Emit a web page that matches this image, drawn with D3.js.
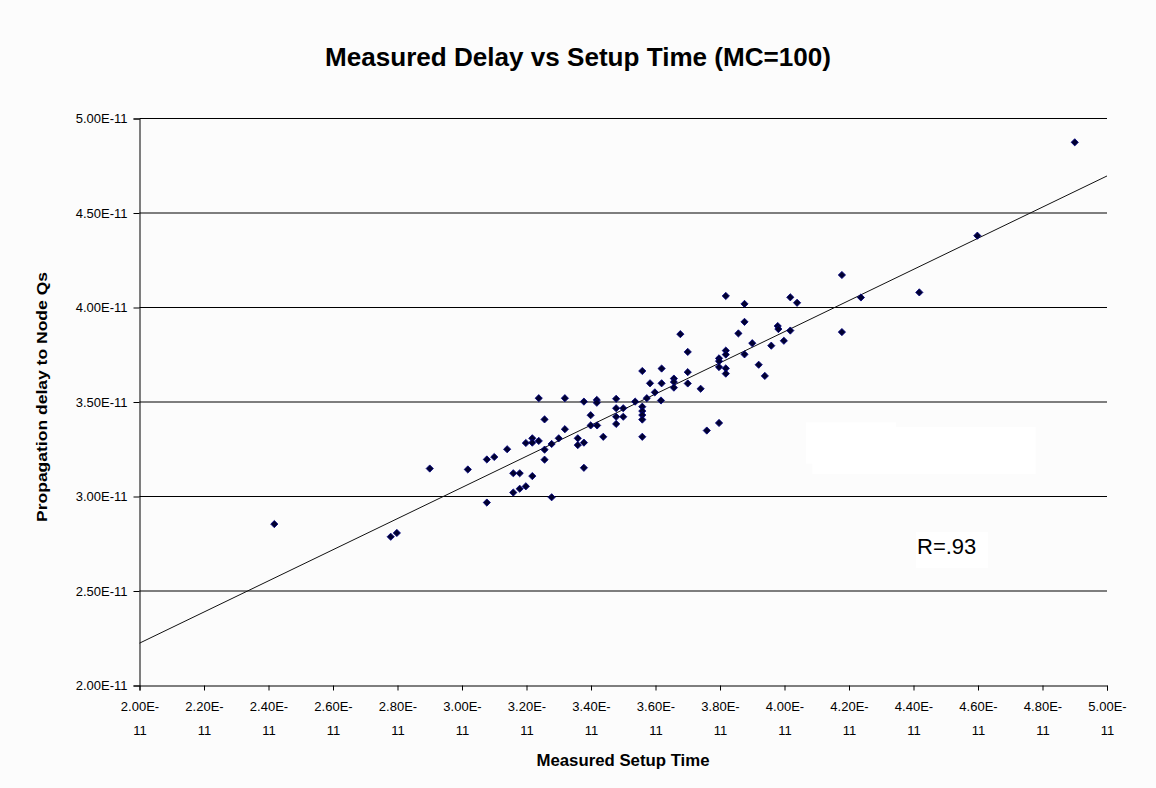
<!DOCTYPE html>
<html>
<head>
<meta charset="utf-8">
<script src="https://cdn.jsdelivr.net/npm/d3@7"></script>
<style>
  body { margin: 0; background: #fcfcfc; }
  text { font-family: Arial, "Liberation Sans", sans-serif; }
</style>
</head>
<body>
<div id="chart"></div>
<script>
// all values in units of 1E-11 s
const setupTime = [
  2.418, 2.779, 2.798, 2.900, 3.018, 3.077, 3.100, 3.140, 3.198, 3.218,
  3.218, 3.238, 3.256, 3.256, 3.278, 3.077, 3.159, 3.179, 3.218, 3.159,
  3.179, 3.198, 3.278, 3.256, 3.238, 3.319, 3.319, 3.300, 3.359, 3.359,
  3.378, 3.378, 3.378, 3.418, 3.418, 3.478, 3.537, 3.573, 3.583, 3.399,
  3.399, 3.419, 3.438, 3.478, 3.478, 3.478, 3.500, 3.500, 3.559, 3.559,
  3.559, 3.559, 3.559, 3.559, 3.619, 3.619, 3.598, 3.617, 3.657, 3.657,
  3.657, 3.677, 3.700, 3.700, 3.700, 3.740, 3.759, 3.797, 3.797, 3.797,
  3.797, 3.818, 3.818, 3.818, 3.818, 3.818, 3.857, 3.876, 3.876, 3.876,
  3.900, 3.920, 3.939, 3.959, 3.979, 3.981, 3.998, 4.018, 4.018, 4.039,
  4.178, 4.178, 4.237, 4.418, 4.598, 4.900
];
const propDelay = [
  2.854, 2.787, 2.807, 3.148, 3.143, 3.196, 3.209, 3.250, 3.283, 3.308,
  3.285, 3.294, 3.248, 3.195, 3.278, 2.968, 3.123, 3.123, 3.108, 3.021,
  3.041, 3.054, 2.996, 3.408, 3.520, 3.520, 3.356, 3.308, 3.308, 3.272,
  3.285, 3.152, 3.502, 3.511, 3.496, 3.517, 3.502, 3.520, 3.599, 3.430,
  3.376, 3.376, 3.316, 3.467, 3.422, 3.384, 3.467, 3.422, 3.475, 3.452,
  3.431, 3.407, 3.316, 3.664, 3.677, 3.599, 3.551, 3.508, 3.624, 3.606,
  3.576, 3.859, 3.765, 3.658, 3.598, 3.570, 3.349, 3.389, 3.731, 3.716,
  3.685, 3.772, 3.751, 3.678, 3.650, 4.061, 3.863, 4.019, 3.924, 3.752,
  3.811, 3.697, 3.638, 3.798, 3.902, 3.886, 3.824, 3.878, 4.054, 4.025,
  4.172, 3.870, 4.053, 4.080, 4.380, 4.874
];
// linear trendline end points
const trendX = [2.0, 5.0];
const trendY = [2.224, 4.696];

const xTicks = d3.range(2.0, 5.001, 0.2);
const yTicks = [2.0, 2.5, 3.0, 3.5, 4.0, 4.5, 5.0];

const chartTitle = "Measured Delay vs Setup Time (MC=100)";
const xTitle = "Measured Setup Time";
const yTitle = "Propagation delay to Node Qs";
const rLabel = "R=.93";

const fullwidth = 1156, fullheight = 788;
const plotLeft = 139.5, plotRight = 1107, plotTop = 118.5, plotBottom = 685.5;

const svg = d3.select("#chart").append("svg")
  .attr("width", fullwidth)
  .attr("height", fullheight);

svg.append("rect")
  .attr("width", fullwidth).attr("height", fullheight)
  .attr("fill", "#fcfcfc");

const x = d3.scaleLinear().domain([2, 5]).range([plotLeft, plotRight]);
const y = d3.scaleLinear().domain([2, 5]).range([plotBottom, plotTop]);

// title
svg.append("text")
  .attr("x", 578).attr("y", 66)
  .attr("text-anchor", "middle")
  .attr("font-size", 25)
  .attr("font-weight", "bold")
  .attr("textLength", 506)
  .attr("lengthAdjust", "spacingAndGlyphs")
  .text(chartTitle);

// white patches inside plot
svg.append("rect").attr("x", 806).attr("y", 422.5).attr("width", 90).attr("height", 41).attr("fill", "#fff");
svg.append("rect").attr("x", 812.5).attr("y", 427).attr("width", 223).attr("height", 47).attr("fill", "#fff");

// horizontal gridlines
svg.append("g")
  .selectAll("line")
  .data(yTicks.slice(1))
  .join("line")
  .attr("x1", plotLeft).attr("x2", plotRight)
  .attr("y1", d => y(d))
  .attr("y2", d => y(d))
  .attr("stroke", "#000")
  .attr("stroke-width", 1);

// y axis
const yAxis = svg.append("g")
  .attr("transform", `translate(${plotLeft},0)`)
  .call(d3.axisLeft(y).tickValues(yTicks).tickSize(6).tickPadding(6)
    .tickFormat(d => d.toFixed(2) + "E-11"));
yAxis.select(".domain").attr("stroke", "#000");
yAxis.selectAll(".tick line").attr("stroke", "#000");
yAxis.selectAll("text")
  .attr("font-size", 13)
  .attr("font-family", "Arial, 'Liberation Sans', sans-serif")
  .attr("fill", "#000");

// x axis
const xAxis = svg.append("g")
  .attr("transform", `translate(0,${plotBottom})`)
  .call(d3.axisBottom(x).tickValues(xTicks).tickSize(5).tickFormat(""));
xAxis.select(".domain").attr("stroke", "#000");
xAxis.selectAll(".tick line").attr("stroke", "#000");
xAxis.selectAll(".tick").each(function (d) {
  const t = d3.select(this).append("text")
    .attr("text-anchor", "middle")
    .attr("font-size", 13)
    .attr("font-family", "Arial, 'Liberation Sans', sans-serif")
    .attr("fill", "#000");
  t.append("tspan").attr("x", 0).attr("y", 25).text(d.toFixed(2) + "E-");
  t.append("tspan").attr("x", 0).attr("y", 49).text("11");
});

// trendline
svg.append("line")
  .attr("x1", x(trendX[0])).attr("y1", y(trendY[0]))
  .attr("x2", x(trendX[1])).attr("y2", y(trendY[1]))
  .attr("stroke", "#111")
  .attr("stroke-width", 1);

// points
const diamond = d3.symbol().type(d3.symbolSquare).size(26);
svg.append("g")
  .selectAll("path")
  .data(setupTime.map((v, i) => [v, propDelay[i]]))
  .join("path")
  .attr("d", diamond)
  .attr("transform", d => `translate(${x(d[0])},${y(d[1])}) rotate(45)`)
  .attr("fill", "#000030")
  .attr("stroke", "#000080")
  .attr("stroke-width", 0.8);

// R label
svg.append("rect").attr("x", 916).attr("y", 532).attr("width", 72).attr("height", 36).attr("fill", "#fff");
svg.append("text")
  .attr("x", 917).attr("y", 554)
  .attr("font-size", 22)
  .attr("fill", "#000")
  .text(rLabel);

// axis titles
svg.append("text")
  .attr("x", 623).attr("y", 766)
  .attr("text-anchor", "middle")
  .attr("font-size", 16)
  .attr("font-weight", "bold")
  .attr("textLength", 173)
  .attr("lengthAdjust", "spacingAndGlyphs")
  .text(xTitle);

svg.append("text")
  .attr("transform", "translate(47,397) rotate(-90)")
  .attr("text-anchor", "middle")
  .attr("font-size", 15)
  .attr("font-weight", "bold")
  .attr("textLength", 250)
  .attr("lengthAdjust", "spacingAndGlyphs")
  .text(yTitle);
</script>
</body>
</html>
